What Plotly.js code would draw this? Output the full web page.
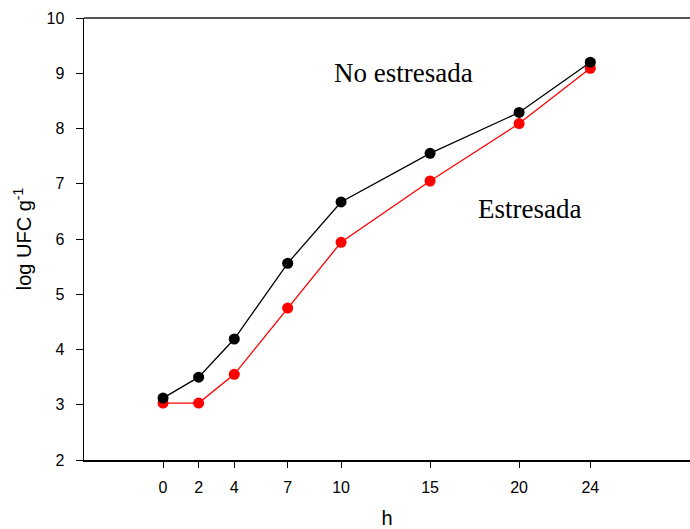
<!DOCTYPE html>
<html>
<head>
<meta charset="utf-8">
<script src="https://cdn.plot.ly/plotly-3.0.1.min.js"></script>
<style>
  html, body { margin: 0; padding: 0; background: #fff; }
  #chart { width: 690px; height: 529px; }
</style>
</head>
<body>
<div id="chart"></div>
<script>
// Sampling times (hours)
const hours = [0, 2, 4, 7, 10, 15, 20, 24];
const hourTicks = ['0', '2', '4', '7', '10', '15', '20', '24'];

// log UFC g-1 counts
const noEstresada = [3.12, 3.50, 4.19, 5.56, 6.67, 7.55, 8.29, 9.20];
const estresada   = [3.03, 3.03, 3.55, 4.75, 5.94, 7.05, 8.09, 9.09];

// standard errors
const errNo  = [0.04, 0.03, 0.03, 0.04, 0.03, 0.03, 0.03, 0.04];
const errEst = [0.04, 0.03, 0.03, 0.03, 0.03, 0.03, 0.03, 0.03];

const yTicks = [2, 3, 4, 5, 6, 7, 8, 9, 10];

const traces = [
  {
    x: hours, y: estresada, name: 'Estresada',
    type: 'scatter', mode: 'lines+markers',
    line: { color: '#ff0000', width: 1.3 },
    marker: { color: '#ff0000', size: 11 },
    error_y: { type: 'data', array: errEst, visible: true, color: '#ff0000', thickness: 1, width: 5 }
  },
  {
    x: hours, y: noEstresada, name: 'No estresada',
    type: 'scatter', mode: 'lines+markers',
    line: { color: '#000000', width: 1.3 },
    marker: { color: '#000000', size: 11 },
    error_y: { type: 'data', array: errNo, visible: true, color: '#000000', thickness: 1, width: 5 }
  }
];

const layout = {
  width: 690, height: 529,
  margin: { l: 84, r: 0, t: 18, b: 69 },
  paper_bgcolor: '#ffffff', plot_bgcolor: '#ffffff',
  showlegend: false,
  font: { family: 'Liberation Sans, Arial, sans-serif', color: '#000', size: 16 },
  xaxis: {
    range: [-4.44, 29.6],
    tickmode: 'array', tickvals: hours, ticktext: hourTicks,
    ticks: 'outside', ticklen: 6, tickwidth: 1, tickcolor: '#000',
    ticklabelstandoff: 6,
    showline: true, linecolor: '#000', linewidth: 1.5,
    showgrid: false, zeroline: false,
    tickfont: { size: 16 },
    title: { text: 'h', font: { size: 20 }, standoff: 26 }
  },
  yaxis: {
    range: [2, 10],
    tickmode: 'array', tickvals: yTicks,
    ticks: 'outside', ticklen: 7, tickwidth: 1, tickcolor: '#000',
    ticklabelstandoff: 8,
    showline: true, linecolor: '#000', linewidth: 1.5,
    showgrid: false, zeroline: false,
    tickfont: { size: 16 },
    title: { text: 'log UFC g<sup>-1</sup>', font: { size: 20 }, standoff: 9 }
  },
  shapes: [
    { type: 'line', xref: 'paper', yref: 'paper', x0: 0, x1: 1, y0: 1, y1: 1,
      line: { color: '#555555', width: 2 } }
  ],
  annotations: [
    { x: 13.5, y: 9.0, xref: 'x', yref: 'y', text: 'No estresada', showarrow: false,
      font: { family: 'Liberation Serif, Times New Roman, serif', size: 27, color: '#000' } },
    { x: 20.6, y: 6.55, xref: 'x', yref: 'y', text: 'Estresada', showarrow: false,
      font: { family: 'Liberation Serif, Times New Roman, serif', size: 27, color: '#000' } }
  ]
};

Plotly.newPlot('chart', traces, layout, { displayModeBar: false, staticPlot: true });
</script>
</body>
</html>
